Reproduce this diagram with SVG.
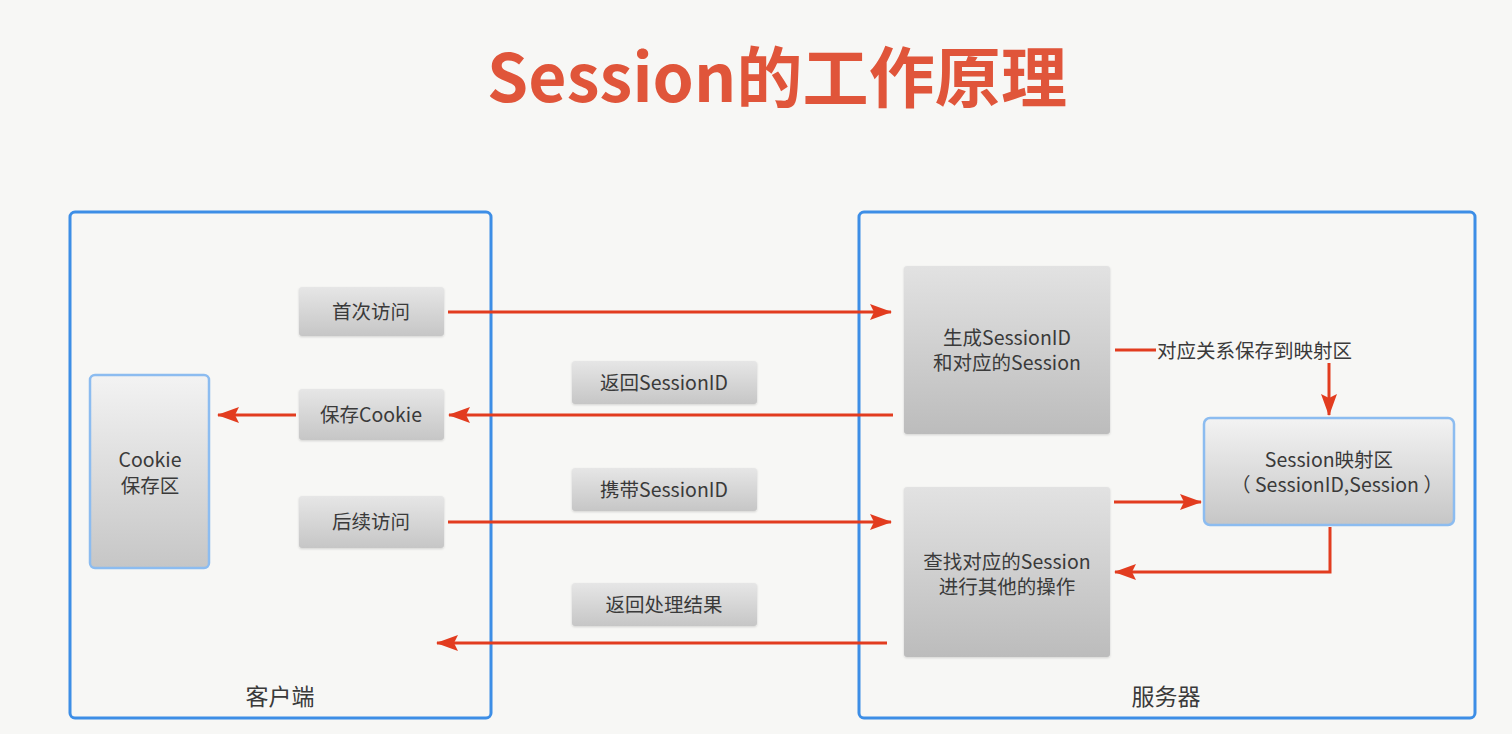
<svg xmlns="http://www.w3.org/2000/svg" width="1512" height="734" viewBox="0 0 1512 734">
<defs>
<style>
text{font-family:"Noto Sans CJK SC","Noto Sans",sans-serif;fill:#3a3a3a;}
.t{font-size:19.5px;text-anchor:middle;}
.cap{font-size:23px;text-anchor:middle;}
.title{font-size:66px;font-weight:bold;fill:#e0553a;text-anchor:middle;}
.frame{fill:none;stroke:#3d8ee6;stroke-width:3;}
.g{fill:url(#gs);filter:url(#sh);}
.gb{fill:url(#gb);filter:url(#sh);}
.bl{fill:url(#gl);stroke:#8cbcf0;stroke-width:2.5;}
.c{fill:none;stroke:#e23c1f;stroke-width:3;}
</style>
<linearGradient id="gs" x1="0" y1="0" x2="0" y2="1"><stop offset="0" stop-color="#e6e6e6"/><stop offset="1" stop-color="#c6c6c6"/></linearGradient>
<linearGradient id="gb" x1="0" y1="0" x2="0" y2="1"><stop offset="0" stop-color="#e2e2e2"/><stop offset="1" stop-color="#bcbcbc"/></linearGradient>
<linearGradient id="gl" x1="0" y1="0" x2="0" y2="1"><stop offset="0" stop-color="#f3f3f3"/><stop offset="1" stop-color="#c6c6c6"/></linearGradient>
<filter id="sh" x="-10%" y="-10%" width="120%" height="130%"><feDropShadow dx="0" dy="1" stdDeviation="1" flood-color="#000" flood-opacity="0.15"/></filter>
<marker id="ah" viewBox="0 0 22 16" refX="21" refY="8" markerWidth="22" markerHeight="16" markerUnits="userSpaceOnUse" orient="auto">
<path d="M0,0 L22,8 L0,16 L4,8 Z" fill="#e23c1f"/>
</marker>
</defs>
<rect width="1512" height="734" fill="#f7f7f5"/>
<text class="title" x="777" y="102" textLength="580">Session的工作原理</text>

<g id="client">
<rect class="frame" x="70" y="212" width="421" height="506" rx="5"/>
<text class="cap" x="280" y="705">客户端</text>
</g>
<g id="server">
<rect class="frame" x="859" y="212" width="616" height="506" rx="5"/>
<text class="cap" x="1166" y="705">服务器</text>
</g>

<g id="cookie-store">
<rect class="bl" x="90" y="375" width="119" height="193" rx="5"/>
<text class="t" x="150" y="467">Cookie</text>
<text class="t" x="150" y="493">保存区</text>
</g>
<g id="first-visit">
<rect class="g" x="299" y="287" width="145" height="49" rx="3"/>
<text class="t" x="371" y="319">首次访问</text>
</g>
<g id="save-cookie">
<rect class="g" x="299" y="389" width="145" height="51" rx="3"/>
<text class="t" x="371" y="422">保存Cookie</text>
</g>
<g id="later-visit">
<rect class="g" x="299" y="496" width="145" height="52" rx="3"/>
<text class="t" x="371" y="529">后续访问</text>
</g>

<g id="return-sid">
<rect class="g" x="572" y="361" width="185" height="43" rx="3"/>
<text class="t" x="664" y="390">返回SessionID</text>
</g>
<g id="carry-sid">
<rect class="g" x="572" y="468" width="185" height="43" rx="3"/>
<text class="t" x="664" y="497">携带SessionID</text>
</g>
<g id="return-result">
<rect class="g" x="572" y="583" width="185" height="43" rx="3"/>
<text class="t" x="664" y="612">返回处理结果</text>
</g>

<g id="generate">
<rect class="gb" x="904" y="266" width="206" height="168" rx="3"/>
<text class="t" x="1007" y="345">生成SessionID</text>
<text class="t" x="1007" y="370">和对应的Session</text>
</g>
<g id="lookup">
<rect class="gb" x="904" y="487" width="206" height="170" rx="3"/>
<text class="t" x="1007" y="569">查找对应的Session</text>
<text class="t" x="1007" y="594">进行其他的操作</text>
</g>
<g id="session-map">
<rect class="bl" x="1204" y="418" width="250" height="107" rx="6"/>
<text class="t" x="1329" y="467">Session映射区</text>
<text class="t" x="1337" y="492" xml:space="preserve">（ SessionID,Session ）</text>
</g>

<g id="connectors">
<line class="c" x1="448" y1="312" x2="891" y2="312" marker-end="url(#ah)"/>
<line class="c" x1="893" y1="415" x2="449" y2="415" marker-end="url(#ah)"/>
<line class="c" x1="296" y1="415" x2="218" y2="415" marker-end="url(#ah)"/>
<line class="c" x1="448" y1="522" x2="891" y2="522" marker-end="url(#ah)"/>
<line class="c" x1="887" y1="643" x2="437" y2="643" marker-end="url(#ah)"/>
<line class="c" x1="1115" y1="350" x2="1156" y2="350"/>
<text x="1157" y="358" style="font-size:19.5px">对应关系保存到映射区</text>
<line class="c" x1="1329" y1="363" x2="1329" y2="415" marker-end="url(#ah)"/>
<line class="c" x1="1114" y1="502" x2="1201" y2="502" marker-end="url(#ah)"/>
<polyline class="c" points="1330,527 1330,572 1115,572" marker-end="url(#ah)"/>
</g>
</svg>
